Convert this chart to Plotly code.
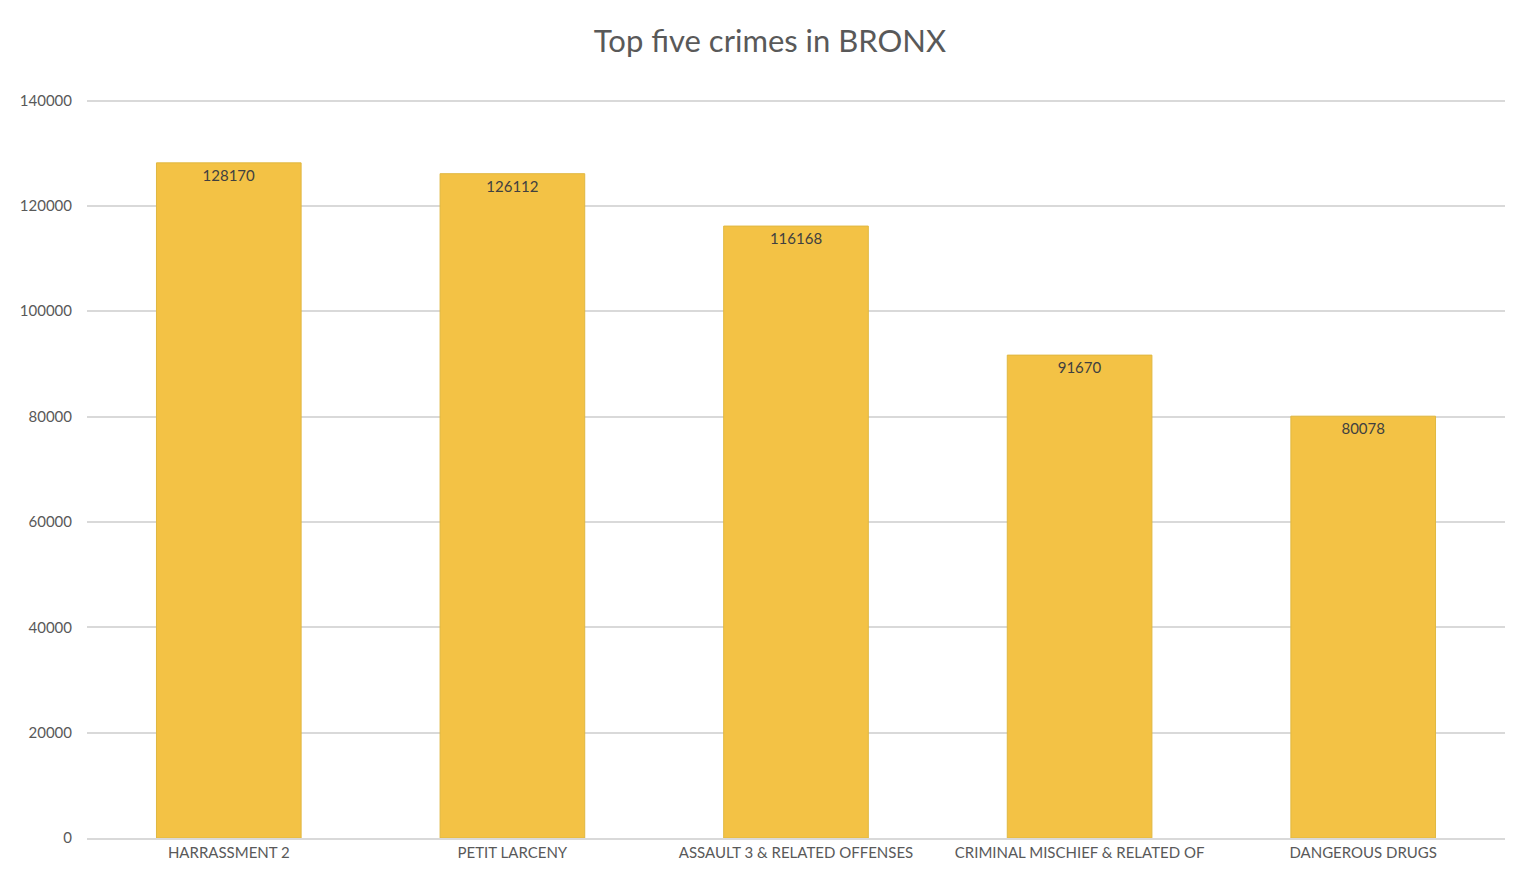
import plotly.graph_objects as go

crimes = ["HARRASSMENT 2", "PETIT LARCENY", "ASSAULT 3 & RELATED OFFENSES",
          "CRIMINAL MISCHIEF & RELATED OF", "DANGEROUS DRUGS"]
counts = [128170, 126112, 116168, 91670, 80078]
y_ticks = [0, 20000, 40000, 60000, 80000, 100000, 120000, 140000]

fig = go.Figure(go.Bar(
    x=crimes, y=counts,
    text=[str(c) for c in counts], textposition="inside", insidetextanchor="end",
    textfont=dict(size=15, color="#404040"),
    marker=dict(color="#F3C245", line=dict(color="#E0B840", width=1)),
    width=0.51,
))

fig.update_layout(
    width=1524, height=884,
    margin=dict(l=72, r=27, t=82, b=54),
    paper_bgcolor="white", plot_bgcolor="white",
    font=dict(family="Lato, Open Sans, sans-serif", color="#595959", size=15),
    title=dict(text="Top five crimes in BRONX", x=0.5, xanchor="center",
               y=0.962, yanchor="middle", font=dict(size=31, color="#595959")),
    showlegend=False,
    yaxis=dict(range=[0, 142000], tickvals=y_ticks, ticktext=[str(v) for v in y_ticks],
               gridcolor="#D9D9D9", gridwidth=1.5, zeroline=False, ticks="",
               ticklabelstandoff=14),
    xaxis=dict(showline=True, linecolor="#D9D9D9", linewidth=1.5, ticks=""),
)

fig.write_html("out.html")
